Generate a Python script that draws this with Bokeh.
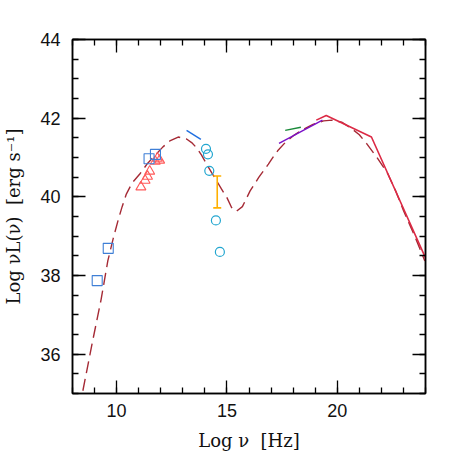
from bokeh.plotting import figure
from bokeh.models import LinearAxis, SingleIntervalTicker, Range1d
from bokeh.embed import file_html
from bokeh.resources import INLINE

# ---- data ----
radio_x = [9.12, 9.62, 11.47, 11.76]
radio_y = [37.87, 38.69, 40.97, 41.08]

tri_x = [11.10, 11.29, 11.40, 11.50, 11.75, 11.85, 11.95]
tri_y = [40.25, 40.42, 40.52, 40.65, 40.90, 40.98, 40.93]

opt_x = [14.05, 14.14, 14.20, 14.50, 14.68]
opt_y = [41.22, 41.08, 40.66, 39.40, 38.60]

ir_x = [13.17, 13.82]
ir_y = [41.69, 41.46]

err_x = [14.56]
err_lo = [39.72]
err_hi = [40.53]

green_x = [17.64, 18.35]
green_y = [41.69, 41.77]

purple_x = [17.36, 19.33]
purple_y = [41.36, 41.95]

red_x = [19.05, 19.50, 21.55, 24.00]
red_y = [41.95, 42.07, 41.52, 38.45]

model_x = [8.47, 8.90, 9.30, 9.60, 9.85, 10.06, 10.25, 10.44, 10.70, 11.05, 11.40, 11.80,
           12.10, 12.41, 12.79, 13.17, 13.40, 13.62, 13.85, 14.08, 14.30, 14.53, 14.75,
           15.00, 15.21, 15.42, 15.70, 16.05, 16.45, 16.88, 17.03, 17.30, 17.64, 18.05,
           18.47, 18.90, 19.38, 19.76, 20.20, 20.59, 21.00, 21.35, 21.80, 22.26, 22.65,
           23.01, 23.50, 23.97]
model_y = [35.07, 36.30, 37.40, 38.37, 38.95, 39.39, 39.75, 40.07, 40.35, 40.58, 40.85, 41.09,
           41.27, 41.42, 41.52, 41.47, 41.38, 41.25, 41.06, 40.83, 40.62, 40.41, 40.20,
           39.98, 39.73, 39.63, 39.75, 40.15, 40.50, 40.83, 40.96, 41.17, 41.38, 41.57,
           41.72, 41.84, 41.93, 41.95, 41.90, 41.76, 41.58, 41.34, 41.00, 40.62, 40.15,
           39.64, 39.02, 38.37]

x_range = (8, 24)
y_range = (35, 44)

p = figure(width=455, height=455, output_backend="svg", toolbar_location=None,
           x_range=Range1d(*x_range), y_range=Range1d(*y_range),
           frame_width=353, frame_height=354,
           min_border_left=71, min_border_top=39, min_border_right=31, min_border_bottom=62,
           x_axis_location=None, y_axis_location=None)
p.grid.visible = False
p.background_fill_color = "white"
p.border_fill_color = "white"
p.outline_line_color = "black"
p.outline_line_width = 1.5

def style_axis(ax, labels=True):
    ax.axis_line_color = "black"
    ax.axis_line_width = 1.5
    ax.major_tick_in = 13
    ax.major_tick_out = 0
    ax.minor_tick_in = 6
    ax.minor_tick_out = 0
    ax.major_tick_line_width = 1.3
    ax.minor_tick_line_width = 1.3
    ax.major_tick_line_color = "black"
    ax.minor_tick_line_color = "black"
    if labels:
        ax.major_label_text_font = "Liberation Sans"
        ax.major_label_text_font_size = "18px"
        ax.major_label_text_color = "#111111"
        ax.major_label_standoff = 12
        ax.axis_label_text_font = "DejaVu Serif"
        ax.axis_label_text_font_style = "normal"
        ax.axis_label_text_font_size = "18px"
        ax.axis_label_text_color = "#111111"
    else:
        ax.major_label_text_font_size = "0px"
        ax.major_label_text_color = None

xt = lambda: SingleIntervalTicker(interval=5, num_minor_ticks=5)
yt = lambda: SingleIntervalTicker(interval=2, num_minor_ticks=4)

xb = LinearAxis(ticker=xt(), axis_label="Log ν\u00a0\u00a0[Hz]")
style_axis(xb)
xb.major_label_standoff = 10
xb.axis_label_standoff = 10
p.add_layout(xb, "below")

yl = LinearAxis(ticker=yt(), axis_label="Log νL(ν)\u00a0\u00a0[erg s⁻¹]")
style_axis(yl)
yl.axis_label_standoff = 13
p.add_layout(yl, "left")

xa = LinearAxis(ticker=xt())
style_axis(xa, labels=False)
p.add_layout(xa, "above")

yr = LinearAxis(ticker=yt())
style_axis(yr, labels=False)
p.add_layout(yr, "right")

# model curve
p.line(model_x, model_y, line_color="#a52a35", line_width=1.4, line_dash="12 6")
# X-ray / high energy lines
p.line(red_x, red_y, line_color="#dc2a45", line_width=1.6)
p.line(purple_x, purple_y, line_color="#7a10c8", line_width=1.4)
p.line(green_x, green_y, line_color="#1a8a3a", line_width=1.4)
p.line(ir_x, ir_y, line_color="#1f6fe0", line_width=1.4)

# error bar
p.segment(x0=err_x, y0=err_lo, x1=err_x, y1=err_hi, line_color="#ffb000", line_width=1.6)
p.scatter(err_x, err_lo, marker="dash", size=8, line_color="#ffb000", line_width=1.6)
p.scatter(err_x, err_hi, marker="dash", size=8, line_color="#ffb000", line_width=1.6)

# points
p.scatter(tri_x, tri_y, marker="triangle", size=10, fill_color=None,
          line_color="#ff5a5a", line_width=1.1)
p.scatter(radio_x, radio_y, marker="square", size=10, fill_color=None,
          line_color="#3f7fd6", line_width=1.1)
p.scatter(opt_x, opt_y, marker="circle", size=9, fill_color=None,
          line_color="#22a6d0", line_width=1.2)

open("out.html", "w").write(file_html(p, INLINE))
